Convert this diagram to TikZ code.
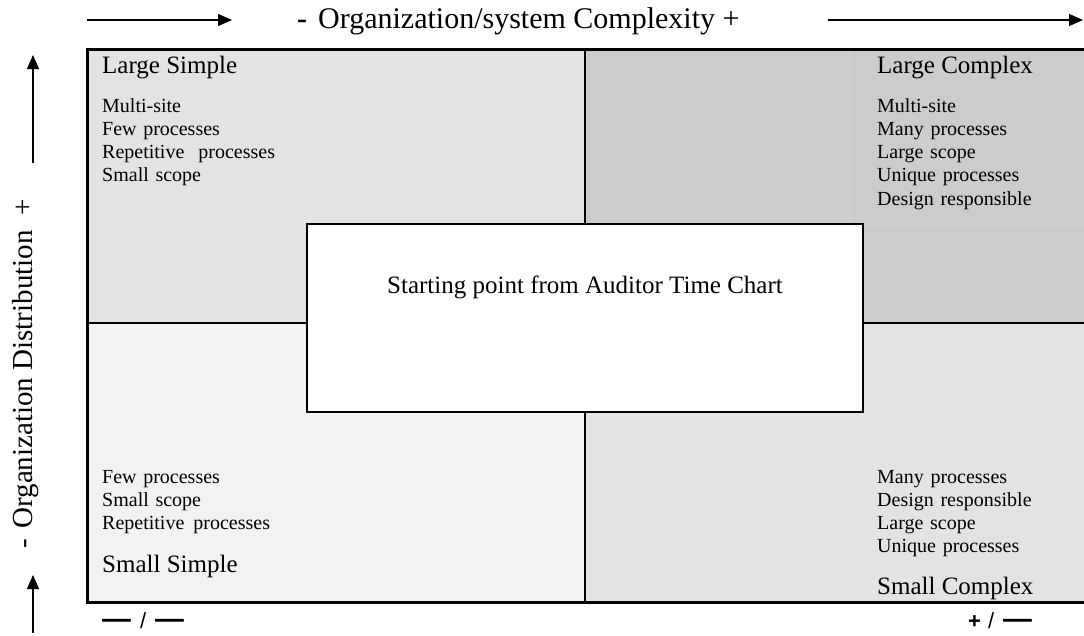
\documentclass[tikz,border=0pt]{standalone}
\usepackage{fontspec}
\setmainfont{Liberation Serif}
\newfontfamily\labelsans{Liberation Sans}
\usepackage{graphicx}
\usetikzlibrary{arrows.meta}
\definecolor{tlgray}{HTML}{E3E3E3}
\definecolor{trgray}{HTML}{CCCCCC}
\definecolor{blgray}{HTML}{F2F2F2}
\definecolor{brgray}{HTML}{E3E3E3}
\definecolor{faintA}{HTML}{D6D6D6}
\definecolor{faintB}{HTML}{E8E8E8}
\newcommand{\bigdash}{\scalebox{1.2}[1.2]{\fontsize{24}{26}\selectfont\bfseries —}}
\begin{document}
\begin{tikzpicture}[x=1pt,y=-1pt,
  bodytext/.style={font=\fontsize{20}{23.3}\selectfont, inner sep=0pt, anchor=base west, text width=320pt, align=left},
  quadtitle/.style={font=\fontsize{25}{30}\selectfont, inner sep=0pt, anchor=base west},
  axislabel/.style={font=\fontsize{29}{34}\selectfont, inner sep=0pt},
  cornerlabel/.style={font=\labelsans\fontsize{22}{24}\selectfont, inner sep=0pt, anchor=base west},
  axisarrow/.style={line width=1.3pt, -{Triangle[length=14pt,width=12pt]}},
  frameline/.style={line width=3pt},
  divline/.style={line width=2pt}]
\useasboundingbox (0,0) rectangle (1084,635);

% quadrants
\fill[tlgray] (87,49) rectangle (585,323);
\fill[trgray] (585,49) rectangle (1090,323);
\fill[blgray] (87,323) rectangle (585,602);
\fill[brgray] (585,323) rectangle (1090,602);
% faint cell borders
\draw[faintA, line width=0.8pt] (849,49) -- (849,225) -- (1090,225);
\draw[faintB, line width=0.8pt] (87,225) -- (307,225);
\draw[faintB, line width=0.8pt] (849,412) -- (849,440);

% dividers and frame
\draw[divline] (585,49) -- (585,602);
\draw[divline] (87,323) -- (1090,323);
\draw[frameline] (1090,49) -- (87,49) -- (87,602) -- (1090,602);

% centre box
\node[draw, line width=2pt, fill=white, minimum width=556pt, minimum height=188pt, inner sep=0pt] (startbox) at (585,318) {};
\node[font=\fontsize{25}{30}\selectfont, inner sep=0pt, anchor=base] (starttext) at (585,293) {Starting point from Auditor Time Chart};

% top left quadrant
\node[quadtitle] (lstitle) at (102,73) {Large Simple};
\node[bodytext] (lslist) at (102,112) {Multi-site\\Few processes\\Repetitive\hspace{14pt}processes\\Small scope};

% top right quadrant
\node[quadtitle] (lctitle) at (877,73) {Large Complex};
\node[bodytext] (lclist) at (877,112) {Multi-site\\Many processes\\Large scope\\Unique processes\\Design responsible};

% bottom left quadrant
\node[bodytext] (sslist) at (102,483) {Few processes\\Small scope\\Repetitive\hspace{9pt}processes};
\node[quadtitle] (sstitle) at (102,572) {Small Simple};

% bottom right quadrant
\node[bodytext] (sclist) at (877,483) {Many processes\\Design responsible\\Large scope\\Unique processes};
\node[quadtitle] (sctitle) at (877,594) {Small Complex};

% top axis
\node[axislabel, font=\fontsize{30}{34}\selectfont, anchor=base west] (xlabel) at (297,28) {\textbf{-}\hspace{11pt}Organization/system Complexity +};
\coordinate (xa1) at (87,20);
\coordinate (xa2) at (232,20);
\coordinate (xb1) at (828,20);
\coordinate (xb2) at (1083,20);
\draw[axisarrow] (xa1) -- (xa2);
\draw[axisarrow] (xb1) -- (xb2);

% left axis
\node[axislabel, anchor=base east, rotate=90] (ylabel) at (32,230) {-\hspace{10pt}Organization Distribution};
\node[axislabel, anchor=base, rotate=90] (yplus) at (32,207) {+};
\coordinate (ya1) at (33,163);
\coordinate (ya2) at (33,55);
\coordinate (yb1) at (33,633);
\coordinate (yb2) at (33,575);
\draw[axisarrow] (ya1) -- (ya2);
\draw[axisarrow] (yb1) -- (yb2);

% corner labels
\node[cornerlabel] (cornerll) at (102,628) {\bigdash\hspace{9pt}/\hspace{9pt}\bigdash};
\node[cornerlabel] (cornerlr) at (968,628) {\textbf{+}\hspace{7pt}/\hspace{9pt}\bigdash};
\end{tikzpicture}
\end{document}
